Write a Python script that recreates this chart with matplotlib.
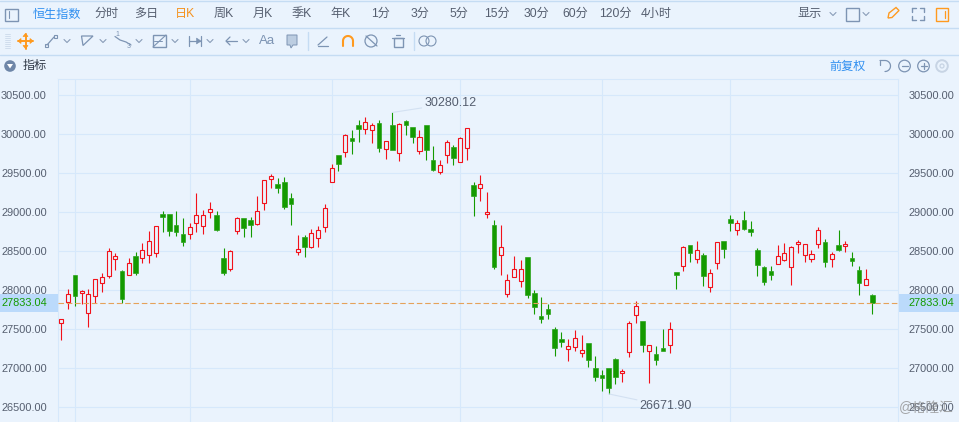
#coding=utf-8
import numpy as np
import matplotlib
matplotlib.use("Agg")
import matplotlib.pyplot as plt
from matplotlib.patches import Rectangle, Circle, Polygon

plt.rcParams['font.family'] = ['Liberation Sans', 'Noto Sans CJK SC', 'DejaVu Sans']

# daily candles of the index
opens = [27577, 27846, 28192, 27962, 27705, 27923, 28090, 28180, 28398, 28244,
         28192, 28436, 28410, 28449, 28474, 28975, 28975, 28834, 28718, 28718,
         28859, 28821, 29000, 28962, 28410, 28269, 28757, 28923, 28898, 28846,
         29116, 29423, 29359, 29385, 29179, 28495, 28679, 28559, 28666, 28807,
         29384, 29730, 29777, 29953, 30115, 30064, 30051, 30141, 29807, 30115,
         29756, 30166, 30089, 29782, 30115, 29666, 29512, 29730, 29833, 29641,
         29820, 29346, 29307, 28974, 28834, 28457, 27949, 28167, 28115, 28423,
         27962, 27671, 27756, 27500, 27372, 27244, 27269, 27201, 27321, 27000,
         26910, 27000, 27115, 26936, 27205, 27680, 27603, 27218, 27179, 27256,
         27295, 28231, 28308, 28577, 28397, 28453, 28047, 28354, 28628, 28914,
         28778, 28897, 28786, 28513, 28299, 28243, 28342, 28393, 28303, 28590,
         28457, 28397, 28590, 28615, 28397, 28577, 28564, 28410, 28256, 28064,
         27936]
closes = [27637, 27949, 27932, 27987, 27949, 28141, 28167, 28500, 28436, 27893,
          28346, 28227, 28513, 28628, 28821, 28945, 28765, 28752, 28624, 28808,
          28962, 28962, 29039, 28778, 28227, 28500, 28923, 28804, 28842, 29013,
          29411, 29462, 29316, 29073, 29106, 28525, 28555, 28730, 28769, 29051,
          29564, 29623, 29987, 29918, 30068, 30153, 30115, 29829, 29910, 29803,
          30128, 30124, 29961, 29961, 29803, 29547, 29602, 29897, 29700, 29948,
          30076, 29205, 29358, 28999, 28304, 28551, 28128, 28269, 28269, 27945,
          27782, 27637, 27701, 27265, 27342, 27282, 27385, 27231, 27111, 26893,
          26880, 26752, 26893, 26962, 27577, 27795, 27303, 27295, 27111, 27226,
          27500, 28201, 28551, 28474, 28513, 28184, 28218, 28615, 28534, 28863,
          28859, 28786, 28752, 28325, 28107, 28196, 28436, 28474, 28551, 28615,
          28590, 28461, 28769, 28363, 28461, 28513, 28590, 28376, 28094, 28141,
          27833.04]
highs = [27637, 28013, 28192, 28000, 28013, 28141, 28218, 28539, 28474, 28257,
         28410, 28487, 28603, 28757, 28821, 29013, 28975, 29013, 28923, 28859,
         29244, 29026, 29128, 29013, 28539, 28517, 28936, 28923, 28936, 29205,
         29411, 29487, 29436, 29449, 29243, 28709, 28709, 28781, 28824, 29102,
         29615, 29730, 30000, 30051, 30179, 30218, 30141, 30179, 29910, 30280.12,
         30141, 30179, 30089, 30051, 30115, 29846, 29666, 29923, 29859, 29961,
         30076, 29384, 29474, 29256, 28898, 28834, 28205, 28436, 28385, 28423,
         28000, 27910, 27821, 27526, 27462, 27372, 27487, 27423, 27321, 27154,
         26974, 27000, 27128, 26987, 27603, 27859, 27603, 27295, 27282, 27500,
         27590, 28231, 28564, 28577, 28628, 28478, 28269, 28615, 28628, 28966,
         28902, 29017, 28889, 28538, 28312, 28312, 28581, 28607, 28564, 28645,
         28590, 28513, 28808, 28654, 28487, 28769, 28628, 28491, 28312, 28269,
         27948]
lows = [27368, 27765, 27803, 27821, 27534, 27833, 27983, 28162, 28261, 27833,
        28192, 28201, 28355, 28355, 28432, 28752, 28701, 28701, 28573, 28663,
        28752, 28727, 28932, 28765, 28201, 28244, 28727, 28688, 28688, 28834,
        29034, 29316, 29252, 29047, 28837, 28452, 28431, 28546, 28559, 28752,
        29384, 29534, 29713, 29752, 29906, 30008, 29893, 29777, 29688, 29803,
        29662, 29995, 29893, 29752, 29675, 29534, 29495, 29636, 29611, 29641,
        29675, 28957, 29149, 28931, 28278, 28201, 27919, 28167, 28047, 27906,
        27701, 27586, 27637, 27162, 27278, 27098, 27226, 27150, 27021, 26842,
        26714, 26671.90, 26803, 26829, 27150, 27577, 27214, 26816, 27047, 27226,
        27201, 28021, 28252, 28359, 28346, 28055, 27978, 28273, 28414, 28761,
        28709, 28773, 28696, 28184, 28068, 28132, 28342, 28376, 28068, 28478,
        28363, 28363, 28543, 28299, 28299, 28500, 28491, 28312, 27940, 28064,
        27696]

price_ticks = [30500, 30000, 29500, 29000, 28500, 28000, 27500, 27000, 26500]
month_starts = [2, 19, 40, 59, 80, 99]
period_tabs = ["分时", "多日", "日K", "周K", "月K", "季K", "年K", "1分", "3分", "5分",
               "15分", "30分", "60分", "120分", "4小时"]
tab_centers = [107, 146, 185, 224, 263, 302, 341, 381, 420, 459, 497, 536, 575, 615, 656]

BG = "#EAF3FD"
GRID = "#D6E8FB"
LINE = "#C5DCF3"
RED = "#F2111A"
GREEN = "#149A00"
TEXT = "#555E6F"
ICON = "#7D94B3"
ORANGE = "#FF9A1F"
BLUE = "#2F8FF0"

W, H = 959, 422
fig = plt.figure(figsize=(W / 100, H / 100), dpi=100, facecolor=BG)

# toolbar layer, in screen pixels
top = fig.add_axes([0, 0, 1, 1], zorder=0)
top.set_xlim(0, W)
top.set_ylim(H, 0)
top.axis("off")


def seg(x, y, c=ICON, lw=0.9):
    top.plot(x, y, color=c, lw=lw, solid_capstyle="round", solid_joinstyle="round")


def box(x, y, w, h, c=ICON, lw=1.0, fc="none"):
    top.add_patch(Rectangle((x, y), w, h, fc=fc, ec=c, lw=lw))


def chevron(x, y):
    seg([x - 3, x, x + 3], [y - 1.5, y + 1.5, y - 1.5], "#8A9DB8", 0.8)


seg([0, W], [0.5, 0.5], LINE, 1.0)
seg([0, W], [27.5, 27.5], LINE, 1.0)
seg([0, W], [54.5, 54.5], LINE, 1.0)

box(4.5, 8.5, 13, 12)
seg([8.5, 8.5], [11, 18], ICON, 0.8)
top.text(57, 14.5, "恒生指数", color=BLUE, fontsize=8.7, ha="center", va="center")
for name, cx in zip(period_tabs, tab_centers):
    top.text(cx, 14, name, color="#F5921E" if name == "日K" else TEXT, fontsize=8.7, ha="center", va="center")
top.text(810, 14.5, "显示", color=TEXT, fontsize=8.7, ha="center", va="center")
chevron(833, 14)
box(845.5, 7.5, 13, 13)
chevron(866, 14)

# pencil, full screen, side panel
top.add_patch(Polygon([[888, 18], [889, 13], [896, 7.5], [899, 10.5], [892, 17.5]], fc="none", ec=ORANGE, lw=1.0))
for sx, sy in [(-1, -1), (1, -1), (-1, 1), (1, 1)]:
    cx, cy = 918 + sx * 6, 14 + sy * 6
    seg([cx, cx - sx * 4], [cy, cy], ICON, 1.0)
    seg([cx, cx], [cy, cy - sy * 4], ICON, 1.0)
box(935.5, 8, 12.5, 12.5, ORANGE)
seg([944.5, 944.5], [11, 18], ORANGE, 0.9)

# drawing tools row
for yy in range(34, 49, 2):
    seg([5, 10], [yy, yy], "#CBD9EA", 0.6)
seg([18, 33], [41, 41], ORANGE, 1.4)
seg([25.5, 25.5], [33.5, 48.5], ORANGE, 1.4)
for pts in ([[18, 41], [21, 38.5], [21, 43.5]], [[33, 41], [30, 38.5], [30, 43.5]],
            [[25.5, 33.5], [23, 36.5], [28, 36.5]], [[25.5, 48.5], [23, 45.5], [28, 45.5]]):
    top.add_patch(Polygon(pts, fc=ORANGE, ec=ORANGE, lw=0.5))
seg([47, 54], [45, 37], ICON)
box(44.5, 44, 3, 3, ICON, 0.8)
box(54, 34.5, 3, 3, ICON, 0.8)
chevron(67, 41)
top.add_patch(Polygon([[81.5, 36], [93, 36], [83, 45.5]], fc="none", ec=ICON, lw=0.9))
chevron(103, 41)
seg([115, 120, 126, 131], [36.5, 40, 42, 45], ICON)
top.text(117, 35, "1", color=ICON, fontsize=5, ha="center", va="center")
top.text(129, 47, "3", color=ICON, fontsize=5, ha="center", va="center")
chevron(139, 41)
box(152.5, 35, 13, 12)
seg([153, 166], [47, 35], ICON, 0.8)
seg([154, 162], [41, 41], ICON, 0.7)
chevron(175, 41)
seg([188.5, 188.5], [36, 46], ICON)
seg([201, 201], [36, 46], ICON)
seg([189, 200], [41, 41], ICON)
top.add_patch(Polygon([[201, 41], [196.5, 38], [196.5, 44]], fc=ICON, ec=ICON, lw=0.4))
chevron(210, 41)
seg([226, 237], [41, 41], ICON)
seg([230, 226, 230], [37, 41, 45], ICON)
chevron(246, 41)
top.text(267, 41, "Aa", color=ICON, fontsize=9.5, ha="center", va="center")
top.add_patch(Polygon([[287, 35], [297, 35], [297, 45], [293, 45], [291, 48], [290, 45], [287, 45]], fc="#BCCDE1", ec=ICON, lw=0.7))
seg([307.5, 307.5], [32, 50], LINE, 1.0)
seg([318, 327], [45, 37], ICON)
seg([318, 328], [45.5, 45.5], ICON)
t = np.linspace(np.pi, 2 * np.pi, 30)
seg(np.r_[343, 348 + 5 * np.cos(t), 353], np.r_[46, 41 + 5 * np.sin(t), 46], ORANGE, 1.5)
top.add_patch(Circle((371, 41), 6, fc="none", ec=ICON, lw=0.9))
seg([366, 377], [36, 46], ICON)
box(393.5, 38, 9, 9)
seg([392, 404], [37.5, 37.5], ICON)
seg([396, 400], [35, 35], ICON)
top.add_patch(Circle((424, 41), 5, fc="none", ec=ICON, lw=0.8))
top.add_patch(Circle((431, 41), 5, fc="none", ec=ICON, lw=0.8))
seg([413.5, 413.5], [32, 50], LINE, 1.0)

# indicator header
top.add_patch(Circle((10, 66), 5.8, fc="#6E86A8", ec="none"))
top.add_patch(Polygon([[7, 64], [13, 64], [10, 68.5]], fc="white", ec="none"))
top.text(35, 66, "指标", color="#333C4A", fontsize=8.7, ha="center", va="center")
top.text(848, 66.5, "前复权", color=BLUE, fontsize=8.7, ha="center", va="center")
a = np.linspace(-0.5 * np.pi, 0.5 * np.pi, 30)
seg(np.r_[880, 885 + 5.5 * np.cos(a)], np.r_[60.5, 66 + 5.5 * np.sin(a)], ICON)
seg([880, 880], [60.5, 64.5], ICON)
top.add_patch(Circle((904.5, 66), 5.8, fc="none", ec=ICON, lw=0.9))
seg([901.5, 907.5], [66, 66], ICON)
top.add_patch(Circle((923.5, 66), 5.8, fc="none", ec=ICON, lw=0.9))
seg([920.5, 926.5], [66, 66], ICON)
seg([923.5, 923.5], [63, 69], ICON)
top.add_patch(Circle((942, 66), 5.8, fc="none", ec="#C7D4E4", lw=1.4))
top.add_patch(Circle((942, 66), 2.0, fc="none", ec="#C7D4E4", lw=0.9))

# current price tags behind the axis labels
last_price = closes[-1]
tag_y = 173.33 + (29500 - last_price) * 0.078
top.add_patch(Rectangle((0, tag_y - 9), 58, 18, fc="#BBDAFB", ec="none"))
top.add_patch(Rectangle((898, tag_y - 9), 61, 18, fc="#BBDAFB", ec="none"))

# price chart
ax = fig.add_axes([58 / W, 0, 840 / W, (H - 79) / H], zorder=1)
ax.set_xlim(-0.488, 123.8)
ax.set_ylim(26312, 30709)
for s in ax.spines.values():
    s.set_color(GRID)
    s.set_linewidth(0.75)
ax.spines["bottom"].set_visible(False)
ax.patch.set_alpha(0)
ax.set_xticks(month_starts)
ax.set_xticklabels([])
ax.set_yticks(price_ticks)
ax.set_yticklabels(["%.2f" % p for p in price_ticks])
ax.tick_params(axis="both", length=0)
ax.tick_params(axis="y", pad=8, labelsize=7.9, labelcolor=TEXT)
ax.grid(True, color=GRID, lw=0.8)
ax.set_axisbelow(True)

right = ax.twinx()
right.set_ylim(ax.get_ylim())
right.set_yticks(price_ticks)
right.set_yticklabels(["%.2f" % p for p in price_ticks])
right.tick_params(axis="y", length=0, pad=7.5, labelsize=7.9, labelcolor=TEXT)
for s in right.spines.values():
    s.set_visible(False)

x = np.arange(len(opens))
o, c, h, l = map(np.array, (opens, closes, highs, lows))
rising = c >= o
colors = np.where(rising, RED, GREEN)
ax.vlines(x, np.maximum(o, c), h, colors=colors, lw=0.8, zorder=3)
ax.vlines(x, l, np.minimum(o, c), colors=colors, lw=0.8, zorder=3)
ax.bar(x[rising], (c - o)[rising], bottom=o[rising], width=0.6, facecolor=BG, edgecolor=RED, linewidth=0.8, zorder=3)
ax.bar(x[~rising], (o - c)[~rising], bottom=c[~rising], width=0.68, facecolor=GREEN, edgecolor=GREEN, linewidth=0.4, zorder=3)

ax.axhline(last_price, color="#E5A25A", lw=0.8, dashes=(5, 2.5), zorder=4)
ax.text(-11 / 840, last_price, "%.2f" % last_price, transform=ax.get_yaxis_transform(), color=GREEN,
        fontsize=7.9, ha="right", va="center", clip_on=False)
ax.text(1 + 10 / 840, last_price, "%.2f" % last_price, transform=ax.get_yaxis_transform(), color=GREEN,
        fontsize=7.9, ha="left", va="center", clip_on=False)

# highest and lowest marks
hi = int(np.argmax(h))
lo = int(np.argmin(l))
ax.annotate("%.2f" % h[hi], xy=(hi, h[hi]), xytext=(32, 9), textcoords="offset pixels", color=TEXT, fontsize=9,
            va="center", ha="left", arrowprops=dict(arrowstyle="-", color="#D3E1F2", lw=0.8, shrinkA=0, shrinkB=0))
ax.annotate("%.2f" % l[lo], xy=(lo, l[lo]), xytext=(31, -12), textcoords="offset pixels", color=TEXT, fontsize=9,
            va="center", ha="left", arrowprops=dict(arrowstyle="-", color="#D3E1F2", lw=0.8, shrinkA=0, shrinkB=0))

fig.text(926 / W, 1 - 408 / H, "@格隆汇", color="#8C8C8C", alpha=0.75, fontsize=9.8, ha="center", va="center", zorder=5)

fig.savefig("out.png", dpi=100, facecolor=BG)
